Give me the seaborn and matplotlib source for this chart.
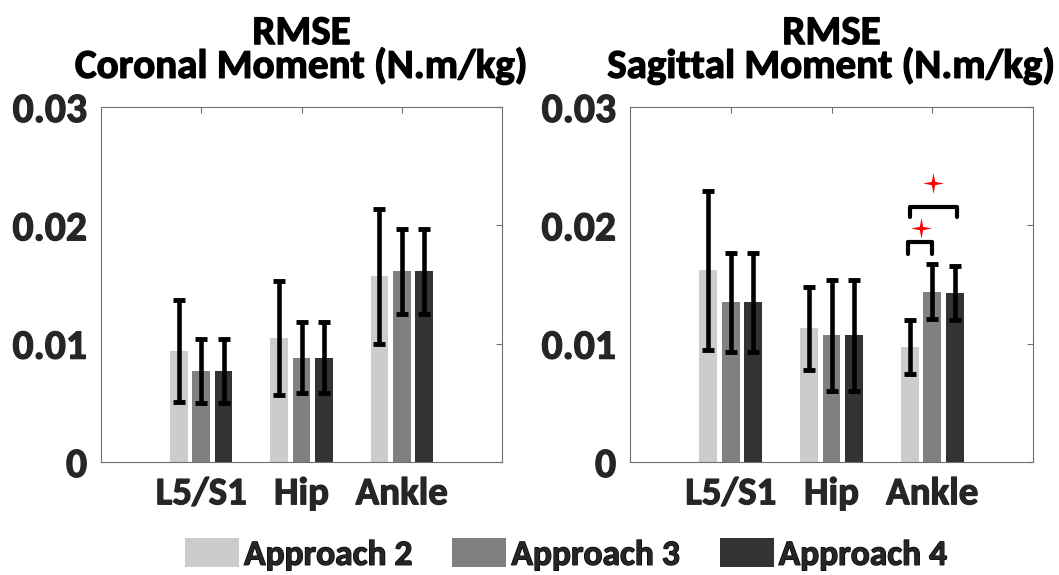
import matplotlib
matplotlib.use("Agg")
import matplotlib.pyplot as plt
import matplotlib.patheffects as pe
from matplotlib.patches import Patch
from matplotlib.path import Path
import numpy as np
import pandas as pd
import seaborn as sns

# ---- data -------------------------------------------------------------
joints = ["L5/S1", "Hip", "Ankle"]
approaches = ["Approach 2", "Approach 3", "Approach 4"]

# Coronal moment RMSE (N.m/kg): mean and SD per approach
coronal_mean_a2 = [0.0094, 0.0105, 0.0157]
coronal_mean_a3 = [0.0077, 0.0088, 0.0161]
coronal_mean_a4 = [0.0077, 0.0088, 0.0161]
coronal_sd_a2 = [0.0043, 0.0048, 0.0057]
coronal_sd_a3 = [0.0027, 0.0030, 0.0036]
coronal_sd_a4 = [0.0027, 0.0030, 0.0036]

# Sagittal moment RMSE (N.m/kg): mean and SD per approach
sagittal_mean_a2 = [0.0162, 0.0113, 0.0097]
sagittal_mean_a3 = [0.0135, 0.0107, 0.0144]
sagittal_mean_a4 = [0.0135, 0.0107, 0.0143]
sagittal_sd_a2 = [0.0067, 0.0035, 0.0023]
sagittal_sd_a3 = [0.0042, 0.0047, 0.0023]
sagittal_sd_a4 = [0.0042, 0.0047, 0.0023]

y_ticks = [0, 0.01, 0.02, 0.03]
y_tick_labels = ["0", "0.01", "0.02", "0.03"]

titles = ["RMSE\nCoronal Moment (N.m/kg)", "RMSE\nSagittal Moment (N.m/kg)"]
colors = ["#cccccc", "#808080", "#333333"]


def long_table(means, sds):
    rows = []
    for name, m, s in zip(approaches, means, sds):
        for j, mv, sv in zip(joints, m, s):
            rows.append({"joint": j, "approach": name, "rmse": mv, "sd": sv})
    return pd.DataFrame(rows)


coronal = long_table([coronal_mean_a2, coronal_mean_a3, coronal_mean_a4],
                     [coronal_sd_a2, coronal_sd_a3, coronal_sd_a4])
sagittal = long_table([sagittal_mean_a2, sagittal_mean_a3, sagittal_mean_a4],
                      [sagittal_sd_a2, sagittal_sd_a3, sagittal_sd_a4])

# ---- style ------------------------------------------------------------
sns.set_style("white")
plt.rcParams["font.family"] = ["Carlito", "DejaVu Sans"]
plt.rcParams["font.weight"] = "bold"

W, H = 1059, 575
fig = plt.figure(figsize=(W / 100, H / 100), dpi=100)
ax_left = fig.add_axes([101 / W, 1 - 462 / H, 401 / W, 355 / H])
ax_right = fig.add_axes([630 / W, 1 - 462 / H, 403 / W, 355 / H])

# four-pointed star marker for significance
a = 0.16
star = Path([(0, 1), (a, a), (1, 0), (a, -a), (0, -1), (-a, -a), (-1, 0), (-a, a), (0, 1)],
            [Path.MOVETO] + [Path.LINETO] * 7 + [Path.CLOSEPOLY])

label_color = "#262626"
spine_color = "#6e6e6e"


def heavy(color):
    # slightly thicker glyph strokes
    return [pe.withStroke(linewidth=0.9, foreground=color)]


def draw_panel(ax, df, title):
    sns.barplot(data=df, x="joint", y="rmse", hue="approach", order=joints,
                hue_order=approaches, palette=colors, width=0.667, gap=0.2,
                errorbar=None, saturation=1, linewidth=0, legend=False, ax=ax)
    centers = []
    for cont, name in zip(ax.containers, approaches):
        sub = df[df["approach"] == name].set_index("joint").loc[joints]
        xs = [b.get_x() + b.get_width() / 2 for b in cont]
        ys = [b.get_height() for b in cont]
        ax.errorbar(xs, ys, yerr=sub["sd"].values, fmt="none", ecolor="black",
                    elinewidth=3.3, capsize=4, capthick=3.5, zorder=5)
        centers.append(xs)
    ax.set_xlim(-1, 3)
    ax.set_ylim(0, 0.03)
    ax.set_yticks(y_ticks)
    ax.set_yticklabels(y_tick_labels)
    ax.set_xlabel("")
    ax.set_ylabel("")
    ax.tick_params(axis="both", direction="in", length=4, width=0.8,
                   color=spine_color, top=True, right=True,
                   labelcolor=label_color)
    ax.tick_params(axis="y", labelsize=30, pad=10)
    ax.tick_params(axis="x", labelsize=28, pad=11)
    for lab in ax.get_xticklabels() + ax.get_yticklabels():
        lab.set_fontweight("bold")
        lab.set_path_effects(heavy(label_color))
    for sp in ax.spines.values():
        sp.set_visible(True)
        sp.set_color(spine_color)
        sp.set_linewidth(0.8)
    t = ax.set_title(title, fontsize=29.5, fontweight="bold", color="black",
                     linespacing=0.92, pad=21)
    t.set_path_effects(heavy("black"))
    return centers


draw_panel(ax_left, coronal, titles[0])
centers = draw_panel(ax_right, sagittal, titles[1])

# significance brackets at the ankle (sagittal panel)
ankle = joints.index("Ankle")
x1, x2, x3 = centers[0][ankle], centers[1][ankle], centers[2][ankle]
bracket_kw = dict(color="black", lw=3.0, solid_joinstyle="round",
                  solid_capstyle="round", zorder=6)
ax_right.plot([x1 - 0.015, x1 - 0.015, x2, x2], [0.0176, 0.0186, 0.0186, 0.0176], **bracket_kw)
ax_right.plot([x1, x1, x3 + 0.02, x3 + 0.02], [0.0207, 0.02157, 0.02157, 0.0207], **bracket_kw)
ax_right.plot([(x1 + x2) / 2], [0.01975], marker=star, ms=15, color="red", mec="none", zorder=7)
ax_right.plot([(x1 + x3) / 2 + 0.01], [0.02355], marker=star, ms=15, color="red", mec="none", zorder=7)

# shared legend
fs = 25.5
fs_px = fs * 100 / 72
handles = [Patch(facecolor=c, edgecolor="none") for c in colors]
leg = fig.legend(handles, approaches, loc="center", bbox_to_anchor=(566 / W, 1 - 554 / H),
                 ncol=3, frameon=False, prop={"size": fs, "weight": "bold"},
                 handlelength=54 / fs_px, handleheight=31 / fs_px,
                 handletextpad=5 / fs_px, columnspacing=40 / fs_px, borderpad=0)
for txt in leg.get_texts():
    txt.set_path_effects(heavy("black"))

fig.savefig("out.png", dpi=100)
